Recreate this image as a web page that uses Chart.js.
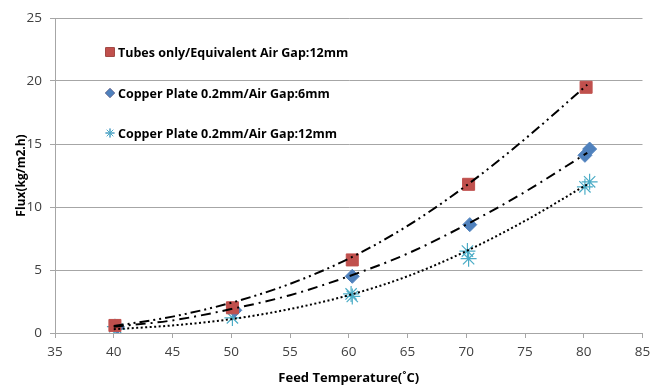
<!DOCTYPE html>
<html>
<head>
<meta charset="utf-8">
<script src="https://cdn.jsdelivr.net/npm/chart.js@4/dist/chart.umd.min.js"></script>
<style>
  html, body { margin: 0; padding: 0; background: #fff; }
  #wrap { width: 652px; height: 390px; }
</style>
</head>
<body>
<div id="wrap"><canvas id="myChart"></canvas></div>
<script>
var seriesNames = ['Tubes only/Equivalent Air Gap:12mm', 'Copper Plate 0.2mm/Air Gap:6mm', 'Copper Plate 0.2mm/Air Gap:12mm'];

// measured points
var tubesX = [40.1, 50.1, 60.3, 70.2, 80.2];
var tubesY = [0.6, 2.0, 5.8, 11.8, 19.5];
var plate6X = [40.3, 50.3, 60.3, 70.3, 80.1, 80.5];
var plate6Y = [0.5, 1.8, 4.5, 8.6, 14.1, 14.6];
var plate12X = [40.3, 40.1, 50.1, 60.2, 60.3, 70.1, 70.2, 80.1, 80.5];
var plate12Y = [0.3, 0.5, 1.2, 3.1, 2.9, 6.5, 5.9, 11.6, 12.0];

// trendlines
var trendX = [40, 45, 50, 55, 60, 65, 70, 75, 80.3];
var tubesTrend = [0.55, 1.3, 2.4, 3.9, 5.9, 8.5, 11.7, 15.4, 19.7];
var plate6Trend = [0.5, 1.0, 1.9, 3.0, 4.5, 6.3, 8.6, 11.2, 14.3];
var plate12Trend = [0.3, 0.6, 1.1, 1.9, 3.0, 4.5, 6.5, 8.9, 11.8];

var xTicks = [35, 40, 45, 50, 55, 60, 65, 70, 75, 80, 85];
var yTicks = [0, 5, 10, 15, 20, 25];

var colors = ['#C0504D', '#4F81BD', '#4BACC6'];

function pts(xs, ys) {
    return xs.map(function (x, i) { return { x: x, y: ys[i] }; });
}

var markerStyles = [
    { pointStyle: 'rect', radius: 8.5, borderWidth: 1 },
    { pointStyle: 'rectRot', radius: 7, borderWidth: 1 },
    { pointStyle: 'star', radius: 8, borderWidth: 1.2 }
];

// legend drawn inside the plot area
var insideLegend = {
    id: 'insideLegend',
    afterDraw: function (chart) {
        var ctx = chart.ctx;
        var rows = [52, 93, 133];
        ctx.save();
        for (var i = 0; i < 3; i++) {
            var m = markerStyles[i];
            Chart.helpers.drawPoint(ctx, {
                pointStyle: m.pointStyle,
                radius: i === 0 ? 6 : 4.5,
                borderWidth: 1,
                rotation: 0
            }, 110, rows[i]);
            ctx.fillStyle = colors[i];
            ctx.strokeStyle = colors[i];
            ctx.fill();
            ctx.stroke();
            ctx.fillStyle = '#000';
            ctx.font = 'bold 12.5px "Open Sans"';
            ctx.textBaseline = 'middle';
            ctx.textAlign = 'left';
            ctx.fillText(seriesNames[i], 118, rows[i] + 1);
        }
        ctx.restore();
    }
};

function trendSet(data, dash) {
    return {
        data: data,
        showLine: true,
        borderColor: '#000',
        borderWidth: 2,
        borderDash: dash,
        pointRadius: 0,
        fill: false,
        cubicInterpolationMode: 'monotone'
    };
}

function markerSet(i, data) {
    var m = markerStyles[i];
    return {
        label: seriesNames[i],
        data: data,
        showLine: false,
        pointStyle: m.pointStyle,
        pointRadius: m.radius,
        pointBorderWidth: m.borderWidth,
        pointBackgroundColor: colors[i],
        pointBorderColor: colors[i]
    };
}

var data = {
    datasets: [
        trendSet(pts(trendX, tubesTrend), [10, 4, 2, 4, 2, 4]),
        trendSet(pts(trendX, plate6Trend), [10, 5, 2, 5]),
        trendSet(pts(trendX, plate12Trend), [2, 2.5]),
        markerSet(0, pts(tubesX, tubesY)),
        markerSet(1, pts(plate6X, plate6Y)),
        markerSet(2, pts(plate12X, plate12Y))
    ]
};

var options = {
    responsive: true,
    maintainAspectRatio: false,
    animation: false,
    layout: { padding: { top: 18, right: 0, left: 0, bottom: 0 } },
    plugins: {
        legend: { display: false },
        tooltip: { enabled: false }
    },
    scales: {
        x: {
            type: 'linear',
            min: 35,
            max: 85,
            afterBuildTicks: function (scale) {
                scale.ticks = xTicks.map(function (v) { return { value: v }; });
            },
            afterFit: function (scale) {
                scale.height = 57;
                scale.paddingRight = 0;
            },
            grid: { drawOnChartArea: false, color: '#A6A6A6', tickLength: 5 },
            border: { color: '#A6A6A6' },
            ticks: { color: '#404040', font: { family: 'Open Sans', size: 13.5 }, padding: 6, maxRotation: 0 },
            title: {
                display: true,
                text: 'Feed Temperature(˚C)',
                color: '#000',
                font: { family: 'Open Sans', size: 13, weight: 'bold' },
                padding: { top: 6 }
            }
        },
        y: {
            type: 'linear',
            min: 0,
            max: 25,
            afterBuildTicks: function (scale) {
                scale.ticks = yTicks.map(function (v) { return { value: v }; });
            },
            afterFit: function (scale) { scale.width = 55; },
            grid: { color: '#A6A6A6', tickLength: 5 },
            border: { color: '#A6A6A6' },
            ticks: { color: '#404040', font: { family: 'Open Sans', size: 13.5 }, padding: 8 },
            title: {
                display: true,
                text: 'Flux(kg/m2.h)',
                color: '#000',
                font: { family: 'Open Sans', size: 12, weight: 'bold' },
                padding: { top: 14, bottom: 2 }
            }
        }
    }
};

var chart = new Chart(document.getElementById('myChart'), {
    type: 'scatter',
    data: data,
    options: options,
    plugins: [insideLegend]
});
</script>
</body>
</html>
